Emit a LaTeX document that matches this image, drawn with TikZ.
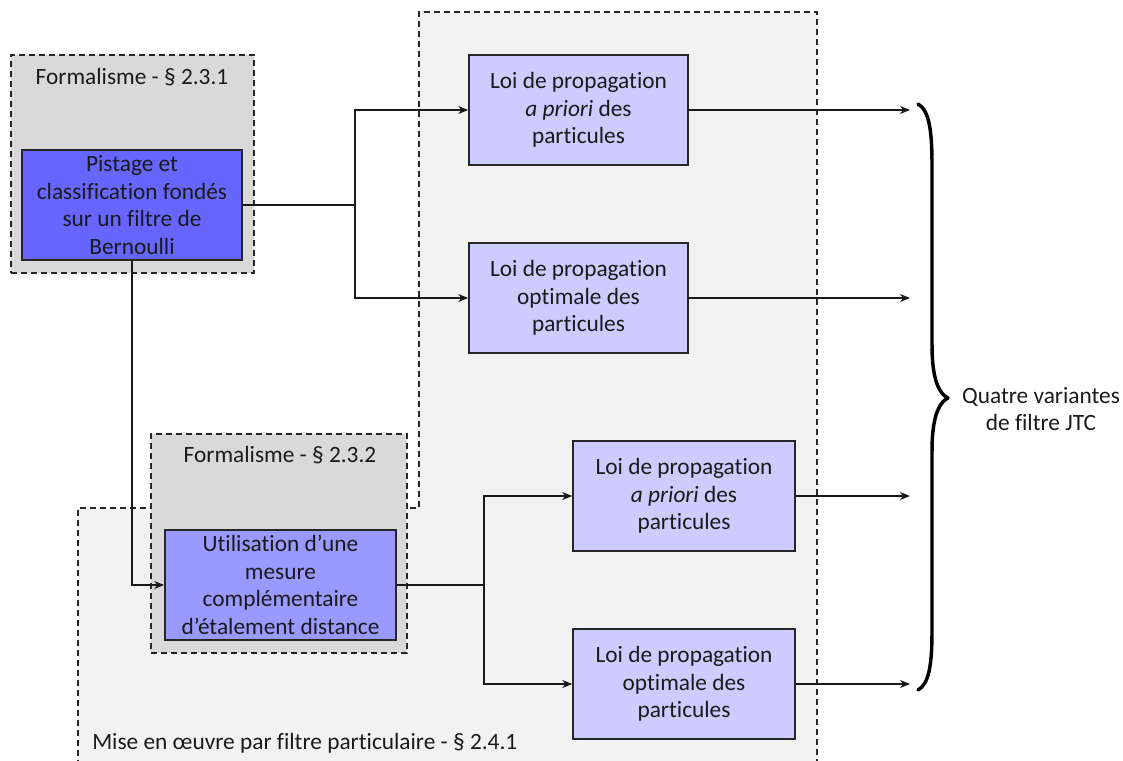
\documentclass[tikz,border=0pt]{standalone}
\usepackage{fontspec}
\setmainfont{Carlito}[Ligatures=NoCommon]
\usetikzlibrary{arrows.meta}
\definecolor{regiongray}{HTML}{F2F2F2}
\definecolor{formgray}{HTML}{D9D9D9}
\definecolor{bluedark}{HTML}{6666FF}
\definecolor{bluemid}{HTML}{9999FF}
\definecolor{bluelight}{HTML}{CCCCFF}
\definecolor{txt}{HTML}{1A1A1A}
\tikzset{
  dashedline/.style={draw=black!85, line width=1.1pt, dash pattern=on 4.5pt off 3pt},
  formbox/.style={dashedline, fill=formgray, minimum width=182.25pt, minimum height=164pt, inner sep=0pt},
  stepbox/.style={draw=black!85, line width=1.2pt, inner sep=0pt, align=center, text=txt,
    font=\fontsize{17.5}{20.6}\selectfont, minimum height=82.5pt},
  lbl/.style={text=txt, font=\fontsize{17.5}{20.6}\selectfont, inner sep=0pt},
  conn/.style={draw=black!90, line width=1pt},
  arr/.style={conn, -{Stealth[length=7.5pt,width=6pt]}},
}
\begin{document}
\begin{tikzpicture}[x=0.75pt,y=-0.75pt]
\useasboundingbox (0,0) rectangle (1123,760);
% L-shaped particle-filter region
\fill[regiongray] (419,12) -- (817,12) -- (817,766) -- (78,766) -- (78,508) -- (419,508) -- cycle;
\draw[dashedline] (78,766) -- (78,508) -- (419,508) -- (419,12) -- (817,12) -- (817,766);
% formalism boxes
\node[formbox, minimum width=182.25pt, minimum height=163.5pt] (g1) at (132.5,164) {};
\node[formbox, minimum width=192pt, minimum height=164.25pt] (g2) at (279,543.5) {};
\node[lbl] (g1l) at (132,77) {Formalisme - § 2.3.1};
\node[lbl] (g2l) at (280,455) {Formalisme - § 2.3.2};
\node[lbl, anchor=west] (pfl) at (92,743) {Mise en œuvre par filtre particulaire - § 2.4.1};
% main boxes
\node[stepbox, fill=bluedark, minimum width=165pt] (b1) at (132,205)
  {Pistage et\\classification fondés\\sur un filtre de\\Bernoulli};
\node[stepbox, fill=bluemid, minimum width=173.25pt] (b2) at (280.5,585)
  {Utilisation d’une\\mesure\\complémentaire\\d’étalement distance};
\node[stepbox, fill=bluelight, minimum width=164.25pt] (t1) at (578.5,110)
  {Loi de propagation\\\textit{a priori} des\\particules};
\node[stepbox, fill=bluelight, minimum width=164.25pt] (t2) at (578.5,298)
  {Loi de propagation\\optimale des\\particules};
\node[stepbox, fill=bluelight, minimum width=166.5pt] (u1) at (684,496)
  {Loi de propagation\\\textit{a priori} des\\particules};
\node[stepbox, fill=bluelight, minimum width=166.5pt] (u2) at (684,684)
  {Loi de propagation\\optimale des\\particules};
% connectors
\coordinate (s1) at (355,0);
\coordinate (s2) at (484,0);
\coordinate (e) at (910,0);
\draw[conn] (b1.east) -- (b1.east -| s1);
\draw[arr] (b1.east -| s1) |- (t1.west);
\draw[arr] (b1.east -| s1) |- (t2.west);
\draw[arr] (b1.south) |- (b2.west);
\draw[conn] (b2.east) -- (b2.east -| s2);
\draw[arr] (b2.east -| s2) |- (u1.west);
\draw[arr] (b2.east -| s2) |- (u2.west);
\draw[arr] (t1.east) -- (t1.east -| e);
\draw[arr] (t2.east) -- (t2.east -| e);
\draw[arr] (u1.east) -- (u1.east -| e);
\draw[arr] (u2.east) -- (u2.east -| e);
% brace
\draw[line width=2.6pt, line cap=round, line join=round]
  (918,104) .. controls (929,110) and (932,130) .. (932,165) -- (932,345)
  .. controls (932,382) and (940,394) .. (948,398)
  .. controls (940,402) and (932,414) .. (932,451) -- (932,630)
  .. controls (932,665) and (929,684) .. (918,690);
\node[lbl, align=center] (q) at (1041,409) {Quatre variantes\\de filtre JTC};
\end{tikzpicture}
\end{document}
